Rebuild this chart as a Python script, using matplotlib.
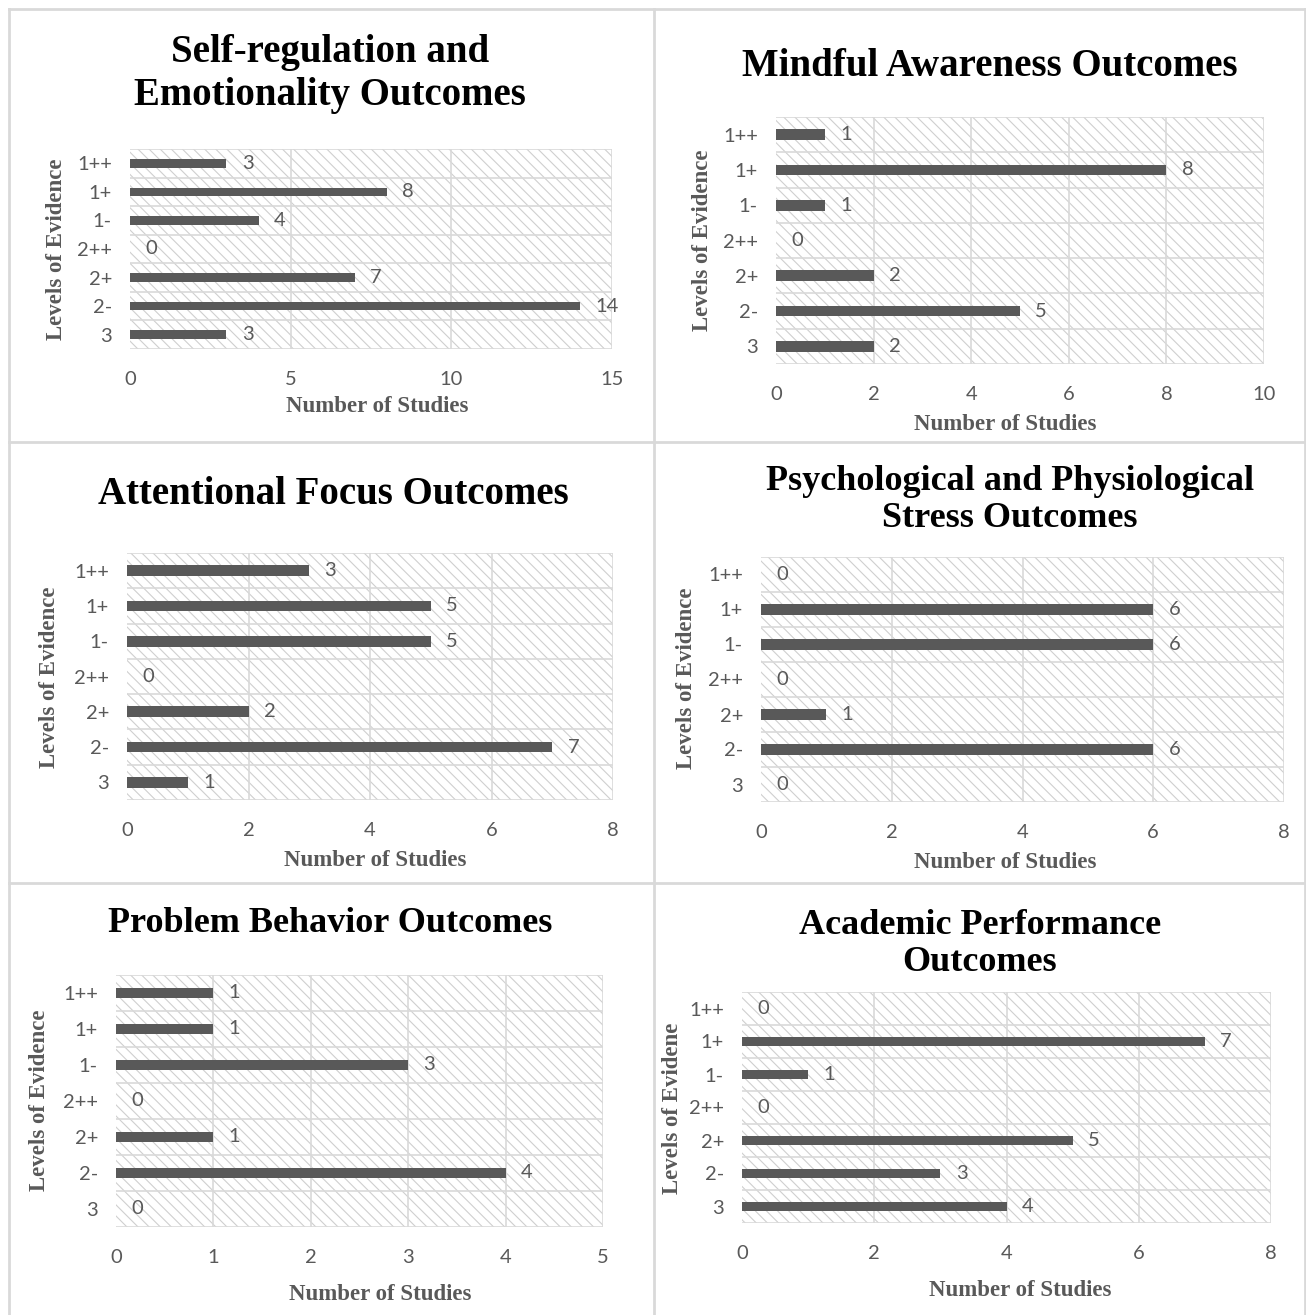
import matplotlib
matplotlib.use("Agg")
import matplotlib.pyplot as plt
from matplotlib.patches import Rectangle
from matplotlib.lines import Line2D

W, H = 1306, 1315

levels = ["1++", "1+", "1-", "2++", "2+", "2-", "3"]

titles = [
    "Self-regulation and\nEmotionality Outcomes",
    "Mindful Awareness Outcomes",
    "Attentional Focus Outcomes",
    "Psychological and Physiological\nStress Outcomes",
    "Problem Behavior Outcomes",
    "Academic Performance\nOutcomes",
]
self_regulation = [3, 8, 4, 0, 7, 14, 3]
mindful_awareness = [1, 8, 1, 0, 2, 5, 2]
attentional_focus = [3, 5, 5, 0, 2, 7, 1]
stress = [0, 6, 6, 0, 1, 6, 0]
problem_behavior = [1, 1, 3, 0, 1, 4, 0]
academic = [0, 7, 1, 0, 5, 3, 4]
series = [self_regulation, mindful_awareness, attentional_focus,
          stress, problem_behavior, academic]
x_max = [15, 10, 8, 8, 5, 8]
x_step = [5, 2, 2, 2, 1, 2]
y_labels = ["Levels of Evidence"] * 5 + ["Levels of Evidene"]

# layout in pixels: plot box (left, top, right, bottom), title, xlabel, ylabel
boxes = [(130, 149, 612, 349), (776, 117, 1264, 364),
         (127, 553, 613, 800), (761, 557, 1284, 802),
         (116, 975, 603, 1227), (742, 992, 1271, 1223)]
title_pos = [(330, 74), (990, 67), (333, 494), (1010, 500), (330, 923), (980, 944)]
title_size = [28, 28, 28, 26, 26, 26]
title_spacing = [1.2, 1.15, 1.15, 1.15, 1.15, 1.15]
xlab_pos = [(377, 406), (1005, 424), (375, 861), (1005, 862), (380, 1294), (1020, 1290)]
ylab_pos = [(57, 249), (703, 240), (50, 677), (686, 678), (40, 1100), (673, 1108)]

BAR = "#595959"
GRID = "#d9d9d9"
HATCH = "#cfcfcf"
TXT = "#595959"
SERIF = "Liberation Serif"
SANS = "Lato"

plt.rcParams["hatch.linewidth"] = 0.8
plt.rcParams["hatch.color"] = HATCH

fig = plt.figure(figsize=(W / 100, H / 100), dpi=100)


def fx(px):
    return px / W


def fy(py):
    return 1 - py / H


# panel frame lines
for seg in [((9, 1305), (9, 9)), ((9, 9), (9, 1315)), ((1305, 1305), (9, 1315)),
            ((654, 654), (9, 1315)), ((9, 1305), (442, 442)), ((9, 1305), (883, 883))]:
    fig.add_artist(Line2D([fx(seg[0][0]), fx(seg[0][1])],
                          [fy(seg[1][0]), fy(seg[1][1])],
                          color="#d9d9d9", lw=2, transform=fig.transFigure))

for i in range(6):
    l, t, r, b = boxes[i]
    ax = fig.add_axes([fx(l), fy(b), (r - l) / W, (b - t) / H])
    vals = series[i]
    ypos = list(range(len(levels)))

    ax.add_patch(Rectangle((0, 0), 1, 1, transform=ax.transAxes,
                           facecolor="white", edgecolor=HATCH, hatch="\\\\\\",
                           lw=0, zorder=0))
    ax.barh(ypos, vals, height=0.3, color=BAR, zorder=3)
    for y, v in zip(ypos, vals):
        ax.annotate(str(v), (v, y), xytext=(11, 0), textcoords="offset points",
                    ha="left", va="center", fontsize=14.5, color=TXT,
                    family=SANS, zorder=4)

    ax.set_xlim(0, x_max[i])
    ax.set_ylim(len(levels) - 0.5, -0.5)
    ax.set_xticks(range(0, x_max[i] + 1, x_step[i]))
    ax.set_yticks(ypos)
    ax.set_yticklabels(levels)
    for k in range(0, x_max[i] + 1, x_step[i]):
        if k > 0:
            ax.axvline(k, color=GRID, lw=1.2, zorder=1)
    for k in range(len(levels) + 1):
        ax.axhline(k - 0.5, color=GRID, lw=1.2, zorder=1)
    for s in ax.spines.values():
        s.set_visible(False)
    ax.tick_params(length=0, labelsize=14.5, labelcolor=TXT)
    ax.tick_params(axis="x", pad=16)
    ax.tick_params(axis="y", pad=13)
    for lab in ax.get_xticklabels() + ax.get_yticklabels():
        lab.set_family(SANS)

    fig.text(fx(title_pos[i][0]), fy(title_pos[i][1]), titles[i],
             ha="center", va="center", family=SERIF, fontweight="bold",
             fontsize=title_size[i], color="black", linespacing=title_spacing[i])
    fig.text(fx(xlab_pos[i][0]), fy(xlab_pos[i][1]), "Number of Studies",
             ha="center", va="center", family=SERIF, fontweight="bold",
             fontsize=16.5, color=TXT)
    fig.text(fx(ylab_pos[i][0]), fy(ylab_pos[i][1]), y_labels[i],
             ha="center", va="center", family=SERIF, fontweight="bold",
             fontsize=16.5, color=TXT, rotation=90)

fig.savefig("out.png", dpi=100)
